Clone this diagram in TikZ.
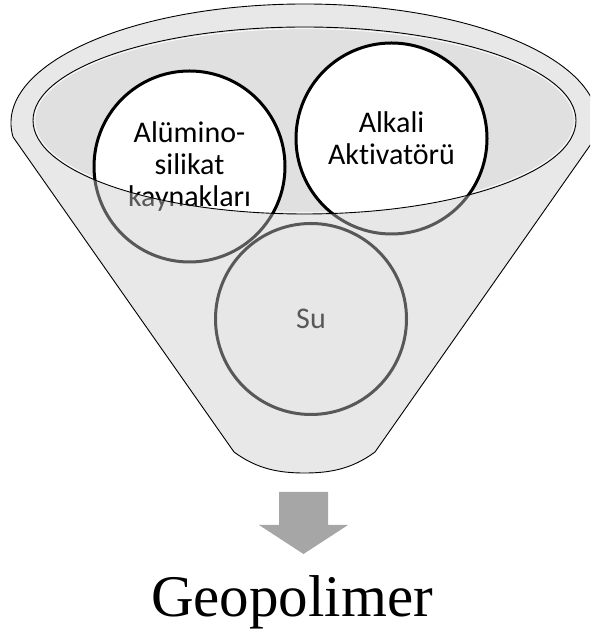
\documentclass[tikz,border=0pt]{standalone}
\usepackage{fontspec}
\newfontfamily\carlito[Ligatures={NoCommon}]{Carlito}
\newfontfamily\libserif{Liberation Serif}
\definecolor{innerfill}{HTML}{E0E0E0}
\definecolor{frontgray}{HTML}{CACACA}
\definecolor{arrowgray}{HTML}{A6A6A6}
\begin{document}
\begin{tikzpicture}[x=1pt,y=1pt,
  ring/.style={circle, draw=black, line width=3pt, fill=white, minimum size=191pt, inner sep=0pt},
  ctext/.style={font=\carlito\fontsize{30}{32}\selectfont, align=center, text=black},
  outline/.style={draw=black, line width=0.9pt}]
\useasboundingbox (0,0) rectangle (590,634);
\clip (0,0) rectangle (590,634);
\def\funnelpath{(13.04,497) arc[start angle=186.76, end angle=-6.76, x radius=293.5, y radius=119] -- (375,182) .. controls (352,165) and (330,161) .. (304.5,161) .. controls (279,161) and (257,165) .. (234,182) -- cycle}
% inner rim
\fill[innerfill] (304.5,513.5) ellipse[x radius=271.5, y radius=93.5];
\draw[white, line width=0.8pt] (304.5,513.5) ellipse[x radius=269.8, y radius=91.8];
% ingredient circles
\node[ring, ctext] (alu) at (189.5,467.5) {Alümino-\\silikat\\kaynakları};
\node[ring, ctext] (alk) at (391.5,495.5) {Alkali\\Aktivatörü};
\node[ring, ctext] (su) at (311,315) {Su};
% translucent front of the funnel
\fill[frontgray, fill opacity=0.44, even odd rule] \funnelpath (304.5,513.5) ellipse[x radius=271.5, y radius=93.5];
% outlines
\draw[outline] \funnelpath;
\draw[outline] (304.5,513.5) ellipse[x radius=271.5, y radius=93.5];
% block arrow
\fill[arrowgray] (279,142) -- (328,142) -- (328,109) -- (348,109) -- (303.5,80) -- (259,109) -- (279,109) -- cycle;
\node[font=\libserif\fontsize{59}{70}\selectfont, anchor=base, inner sep=0pt] (geo) at (292,17) {Geopolimer};
\end{tikzpicture}
\end{document}
